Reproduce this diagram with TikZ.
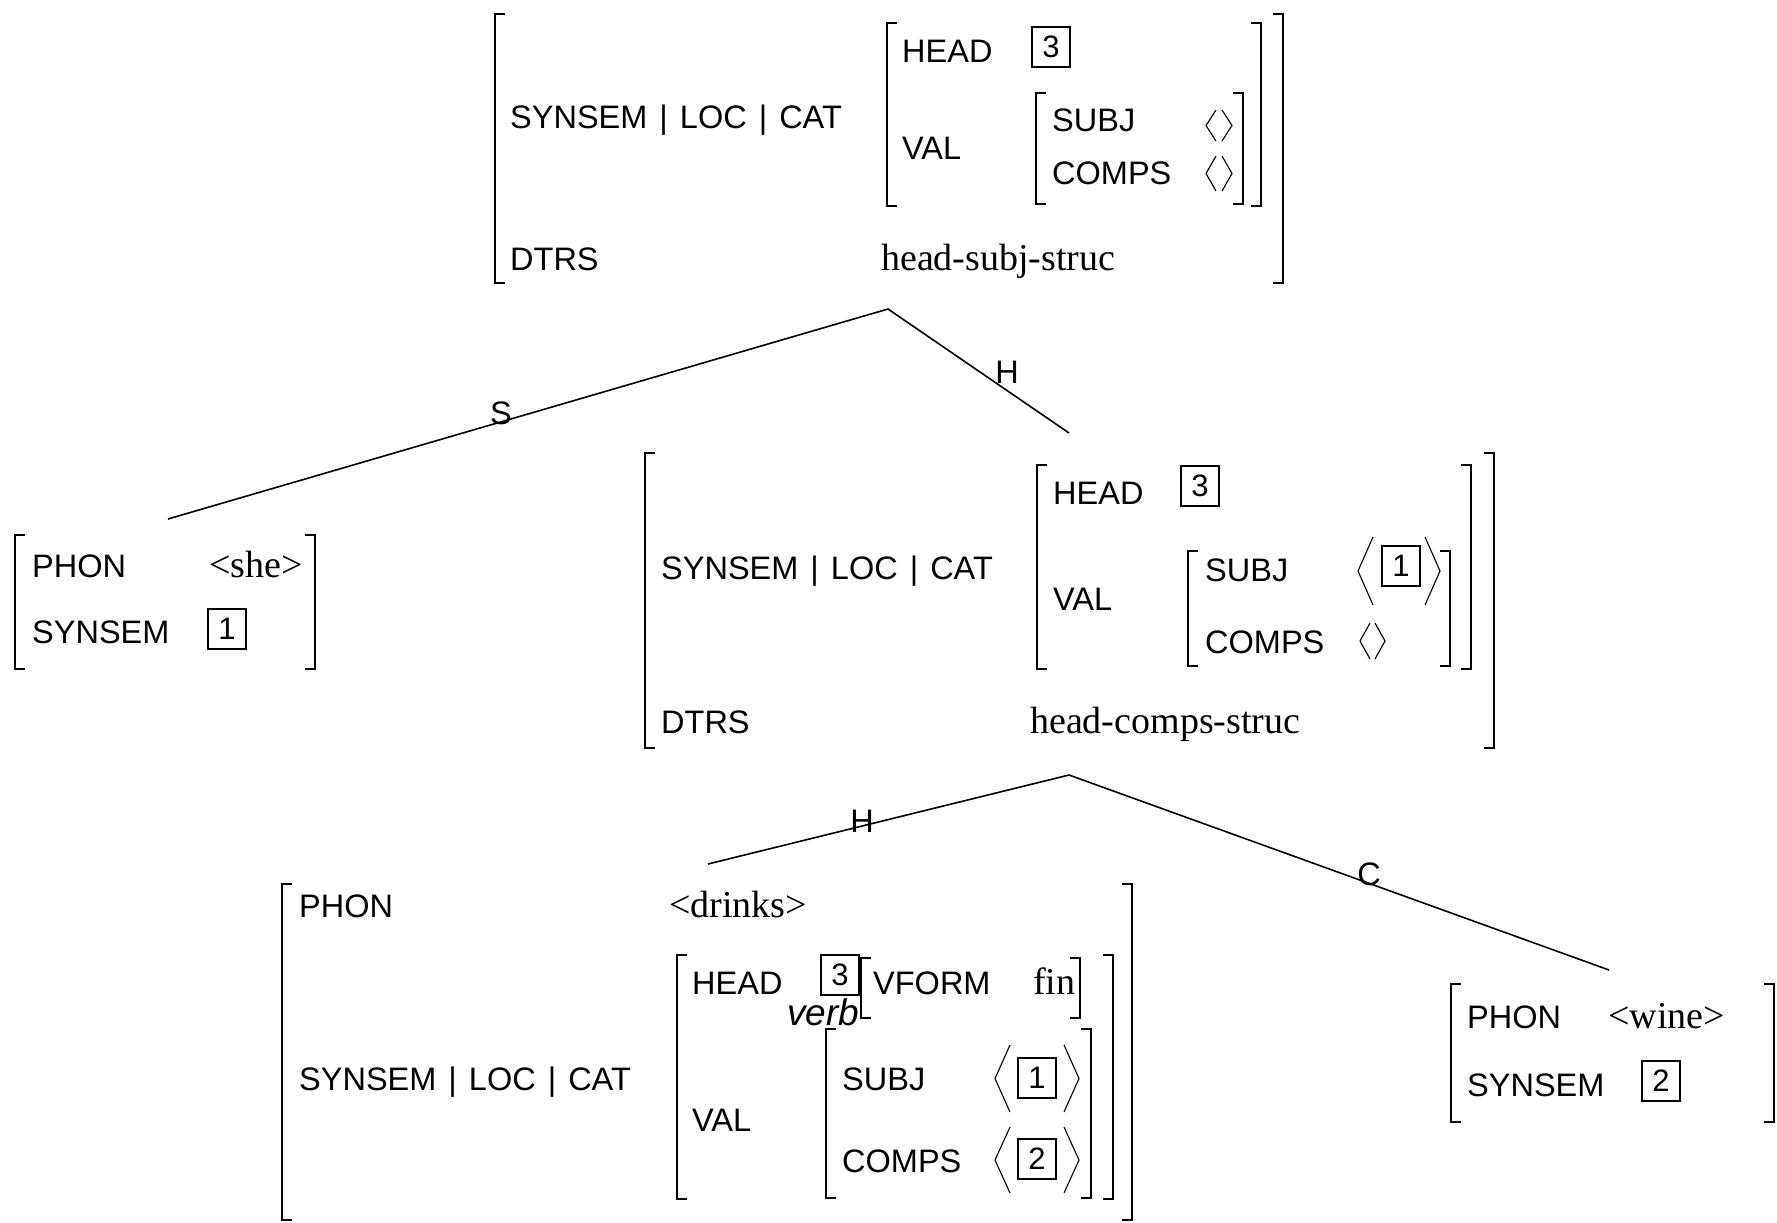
\documentclass[tikz,border=0pt]{standalone}
\usepackage{fontspec}
\setmainfont{Liberation Serif}
\setsansfont{Liberation Sans}
\newcommand\avmL[3]{\draw[br] (#1+10,#2) -- (#1,#2) -- (#1,#3) -- (#1+10,#3);}
\newcommand\avmR[3]{\draw[br] (#1-10,#2) -- (#1,#2) -- (#1,#3) -- (#1-10,#3);}
\newcommand\angL[4]{\draw[ang] (#2,#3) -- (#1,{(#3+#4)/2}) -- (#2,#4);}
\newcommand\angR[4]{\draw[ang] (#1,#3) -- (#2,{(#3+#4)/2}) -- (#1,#4);}
\newcommand\slcpath{SYNSEM\hspace{3pt} |\hspace{3pt} LOC\hspace{3pt} |\hspace{3pt} CAT}
\begin{document}
\begin{tikzpicture}[x=1pt,y=-1pt,
  sf/.style={anchor=base west, inner sep=0pt, font=\fontsize{32.5}{39}\selectfont\sffamily},
  rm/.style={anchor=base west, inner sep=0pt, font=\fontsize{38}{45}\selectfont\rmfamily},
  tag/.style={draw, line width=1.3pt, inner sep=0pt, minimum width=38pt, minimum height=40pt, font=\fontsize{31}{32}\selectfont\sffamily},
  br/.style={line width=1.6pt},
  ang/.style={line width=1.1pt},
  edge/.style={line width=1.6pt},
  lab/.style={inner sep=0pt, font=\fontsize{32.5}{39}\selectfont\sffamily}]
\useasboundingbox (0,0) rectangle (1777,1223);
\fill[white] (0,0) rectangle (1777,1223);

% ---------- top AVM ----------
\avmL{495}{14}{283}
\avmR{1283}{14}{283}
\node[sf] (t-slc) at (510,128) {\slcpath};
\node[sf] (t-dtrs) at (510,270) {DTRS};
\node[rm] (t-hss) at (881,270) {head-subj-struc};
\avmL{887}{23}{206}
\avmR{1261}{23}{206}
\node[sf] (t-head) at (902,63) {HEAD};
\node[tag] (t-tag3) at (1051,47) {3};
\node[sf] (t-val) at (902,159) {VAL};
\avmL{1036}{93}{204}
\avmR{1243}{93}{204}
\node[sf] (t-subj) at (1052,131) {SUBJ};
\node[sf] (t-comps) at (1052,184) {COMPS};
\angL{1206}{1216}{110}{141}
\angR{1222}{1232}{110}{141}
\angL{1206}{1216}{156}{191}
\angR{1222}{1232}{156}{191}

% ---------- tree 1 ----------
\coordinate (r1) at (888,309);
\coordinate (s1) at (168,519);
\coordinate (h1) at (1069,433);
\draw[edge] (s1) -- (r1) -- (h1);
\node[lab] (lS) at (501,413) {S};
\node[lab] (lH1) at (1007,372) {H};

% ---------- she AVM ----------
\avmL{15}{535}{669}
\avmR{315}{535}{669}
\node[sf] (s-phon) at (32,577) {PHON};
\node[rm] (s-she) at (209,577) {<she>};
\node[sf] (s-syn) at (32,643) {SYNSEM};
\node[tag] (s-tag1) at (227,629) {1};

% ---------- middle AVM ----------
\avmL{645}{453}{748}
\avmR{1494}{453}{748}
\node[sf] (m-slc) at (661,579) {\slcpath};
\node[sf] (m-dtrs) at (661,733) {DTRS};
\node[rm] (m-hcs) at (1030,733) {head-comps-struc};
\avmL{1037}{465}{669}
\avmR{1471}{465}{669}
\node[sf] (m-head) at (1053,504) {HEAD};
\node[tag] (m-tag3) at (1200,486) {3};
\node[sf] (m-val) at (1053,610) {VAL};
\avmL{1188}{551}{666}
\avmR{1450}{551}{666}
\node[sf] (m-subj) at (1205,581) {SUBJ};
\angL{1358}{1373}{537}{605}
\node[tag] (m-tag1) at (1401,566) {1};
\angR{1425}{1440}{537}{605}
\node[sf] (m-comps) at (1205,653) {COMPS};
\angL{1360}{1370}{623}{659}
\angR{1375}{1385}{623}{659}

% ---------- tree 2 ----------
\coordinate (r2) at (1069,775);
\coordinate (h2) at (708,864);
\coordinate (c2) at (1609,970);
\draw[edge] (h2) -- (r2) -- (c2);
\node[lab] (lH2) at (862,821) {H};
\node[lab] (lC) at (1369,874) {C};

% ---------- drinks AVM ----------
\avmL{282}{884}{1220}
\avmR{1132}{884}{1220}
\node[sf] (d-phon) at (299,917) {PHON};
\node[rm] (d-drinks) at (669,917) {<drinks>};
\node[sf] (d-slc) at (299,1090) {\slcpath};
\avmL{677}{955}{1199}
\avmR{1113}{955}{1199}
\node[sf] (d-head) at (692,994) {HEAD};
\node[tag] (d-tag3) at (840,975) {3};
\node[sf, font=\fontsize{37}{40}\selectfont\sffamily\itshape] (d-verb) at (787,1025) {verb};
\avmL{861}{958}{1018}
\avmR{1080}{958}{1018}
\node[sf] (d-vform) at (873,994) {VFORM};
\node[rm] (d-fin) at (1033,994) {fin};
\node[sf] (d-val) at (692,1131) {VAL};
\avmL{826}{1029}{1198}
\avmR{1091}{1029}{1198}
\node[sf] (d-subj) at (842,1090) {SUBJ};
\angL{995}{1010}{1045}{1112}
\node[tag] (d-tag1) at (1037,1078) {1};
\angR{1064}{1079}{1045}{1112}
\node[sf] (d-comps) at (842,1172) {COMPS};
\angL{995}{1010}{1127}{1193}
\node[tag] (d-tag2) at (1037,1159) {2};
\angR{1064}{1079}{1127}{1193}

% ---------- wine AVM ----------
\avmL{1451}{984}{1122}
\avmR{1774}{984}{1122}
\node[sf] (w-phon) at (1467,1028) {PHON};
\node[rm] (w-wine) at (1608,1028) {<wine>};
\node[sf] (w-syn) at (1467,1096) {SYNSEM};
\node[tag] (w-tag2) at (1661,1081) {2};
\end{tikzpicture}
\end{document}
